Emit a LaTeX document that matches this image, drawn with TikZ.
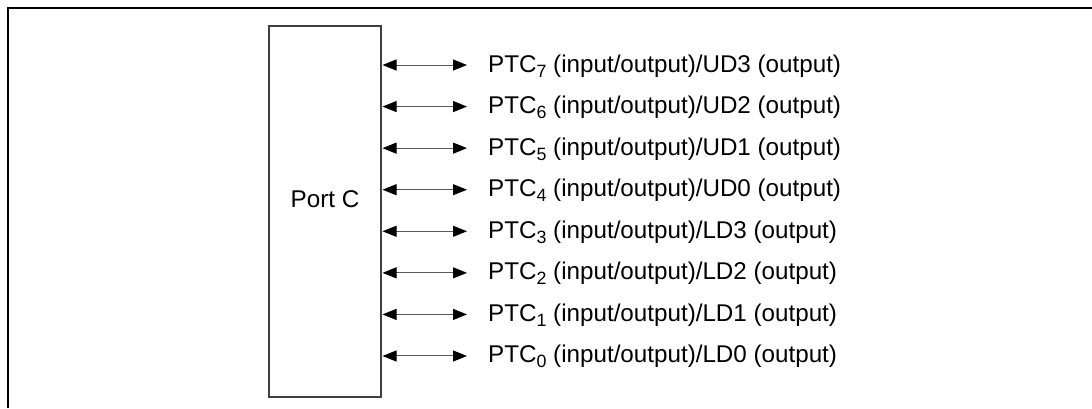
\documentclass[tikz,border=0pt]{standalone}
\usepackage{fontspec}
\setmainfont{Liberation Sans}
\usetikzlibrary{arrows.meta}
\newcommand{\subdig}[1]{\raisebox{-5pt}{\fontsize{17.8}{18}\selectfont #1}}
\begin{document}
\begin{tikzpicture}[x=1pt,y=-1pt,
  lbl/.style={anchor=west,inner sep=0pt,text height=17.5pt,text depth=3.5pt,font=\fontsize{24.2}{28}\selectfont},
  arr/.style={{Triangle[length=14pt,width=11pt,color=black]}-{Triangle[length=14pt,width=11pt,color=black]},line width=1pt,draw=black!65,shorten >=21pt,shorten <=0.5pt},
  frame/.style={line width=2pt,draw=black}]
\useasboundingbox (0,0) rectangle (1092,408);
\draw[frame] (7.5,408) -- (7.5,8) -- (1092,8);
\node[draw=black!75,line width=2pt,minimum width=112pt,minimum height=371pt,inner sep=0pt,anchor=north west] (port) at (268,25) {};
\node[anchor=base,inner sep=0pt,font=\fontsize{24.2}{28}\selectfont] (portlbl) at ([yshift=4.5pt]port.center) {Port C};
\foreach \n/\k/\s in {7/0/UD3,6/1/UD2,5/2/UD1,4/3/UD0,3/4/LD3,2/5/LD2,1/6/LD1,0/7/LD0}{
  \node[lbl] (t\n) at (488,65+41.57*\k) {PTC\subdig{\n} (input/output)/\s\ (output)};
  \draw[arr] (port.east |- t\n.west) -- (t\n.west);
}
\end{tikzpicture}
\end{document}
